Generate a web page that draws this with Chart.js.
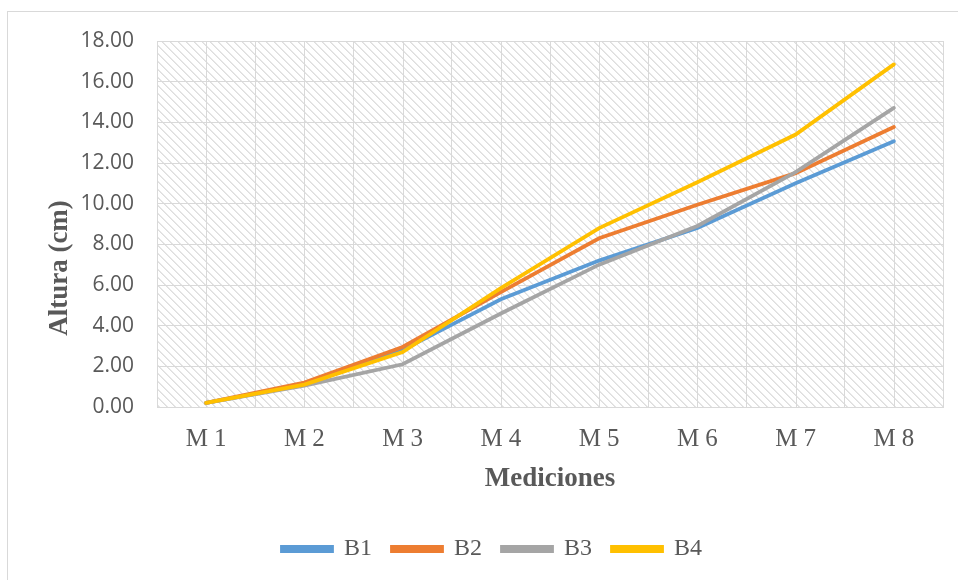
<!DOCTYPE html>
<html>
<head>
<meta charset="utf-8">
<script src="https://cdn.jsdelivr.net/npm/chart.js@4.4.1/dist/chart.umd.min.js"></script>
<style>
  html, body { margin: 0; padding: 0; background: #fff; overflow: hidden; }
  #wrap { position: relative; width: 958px; height: 580px; }
  #frame { position: absolute; left: 7px; top: 11px; width: 1000px; height: 1000px; border: 1px solid #d9d9d9; }
  canvas { position: absolute; left: 0; top: 0; }
</style>
</head>
<body>
<div id="wrap">
  <div id="frame"></div>
  <canvas id="chart" width="958" height="580"></canvas>
</div>
<script>
const categories = ['M 1', 'M 2', 'M 3', 'M 4', 'M 5', 'M 6', 'M 7', 'M 8'];
const b1 = [0.2, 1.1, 2.8, 5.3, 7.2, 8.8, 11.0, 13.07];
const b2 = [0.2, 1.2, 2.95, 5.65, 8.3, 9.95, 11.5, 13.77];
const b3 = [0.2, 1.05, 2.1, 4.6, 7.0, 8.9, 11.55, 14.71];
const b4 = [0.2, 1.1, 2.7, 5.85, 8.8, 11.05, 13.4, 16.85];
const seriesNames = ['B1', 'B2', 'B3', 'B4'];
const seriesColors = ['#5B9BD5', '#ED7D31', '#A5A5A5', '#FFC000'];

const textColor = '#595959';
const gridColor = '#d9d9d9';

// hatch fill for the plot area (downward diagonal)
function makeHatch() {
  const c = document.createElement('canvas');
  c.width = 8; c.height = 8;
  const g = c.getContext('2d');
  const img = g.createImageData(8, 8);
  for (let y = 0; y < 8; y++) {
    for (let x = 0; x < 8; x++) {
      const d = (x - y + 8) % 8;
      const v = d === 0 ? 222 : (d === 1 ? 232 : 255);
      const i = (y * 8 + x) * 4;
      img.data[i] = v; img.data[i + 1] = v; img.data[i + 2] = v; img.data[i + 3] = 255;
    }
  }
  g.putImageData(img, 0, 0);
  return g.createPattern(c, 'repeat');
}

const plotDecor = {
  id: 'plotDecor',
  beforeDraw(chart) {
    const { ctx, chartArea: a } = chart;
    ctx.save();
    ctx.fillStyle = makeHatch();
    ctx.fillRect(a.left, a.top, a.right - a.left, a.bottom - a.top);
    ctx.restore();
  },
  beforeDatasetsDraw(chart) {
    // extra vertical lines through each category centre
    const { ctx, chartArea: a, scales: { x } } = chart;
    ctx.save();
    ctx.strokeStyle = gridColor;
    ctx.lineWidth = 1;
    categories.forEach((c, i) => {
      const px = Math.round(x.getPixelForValue(i)) + 0.5;
      ctx.beginPath();
      ctx.moveTo(px, a.top);
      ctx.lineTo(px, a.bottom);
      ctx.stroke();
    });
    ctx.restore();
  },
  afterDraw(chart) {
    const { ctx } = chart;
    ctx.save();
    ctx.translate(60, 268);
    ctx.rotate(-Math.PI / 2);
    ctx.font = 'bold 27px "Liberation Serif"';
    ctx.fillStyle = textColor;
    ctx.textAlign = 'center';
    ctx.textBaseline = 'middle';
    ctx.fillText('Altura (cm)', 0, 0);
    ctx.restore();
  }
};

const allSeries = [b1, b2, b3, b4];

new Chart(document.getElementById('chart'), {
  type: 'line',
  data: {
    labels: categories,
    datasets: allSeries.map((d, i) => ({
      label: seriesNames[i],
      data: d,
      order: allSeries.length - i, // later series on top, like the original
      borderColor: seriesColors[i],
      backgroundColor: seriesColors[i],
      borderWidth: 3.8,
      pointRadius: 0,
      tension: 0,
      borderCapStyle: 'round'
    }))
  },
  options: {
    responsive: false,
    animation: false,
    layout: { padding: { top: 41, right: 15, bottom: 9, left: 41 } },
    plugins: {
      tooltip: { enabled: false },
      legend: {
        position: 'bottom',
        labels: {
          font: { family: 'Liberation Serif', size: 24 },
          color: textColor,
          boxWidth: 50,
          boxHeight: 4,
          padding: 20,
          sort: (a, b) => a.datasetIndex - b.datasetIndex
        }
      }
    },
    scales: {
      x: {
        offset: true,
        grid: { offset: true, color: gridColor, drawTicks: false },
        border: { color: gridColor },
        ticks: { font: { family: 'Liberation Serif', size: 25 }, color: textColor, padding: 17 },
        title: {
          display: true,
          text: 'Mediciones',
          font: { family: 'Liberation Serif', size: 27, weight: 'bold' },
          color: textColor,
          padding: { top: 0, bottom: 22 }
        },
        afterFit(s) { s.height = 110; }
      },
      y: {
        min: 0,
        max: 18,
        grid: { color: gridColor, drawTicks: false },
        border: { color: gridColor },
        ticks: {
          stepSize: 2,
          font: { family: 'Open Sans', size: 21 },
          color: textColor,
          padding: 23,
          callback: v => Number(v).toFixed(2)
        },
        afterFit(s) { s.width = 116; }
      }
    }
  },
  plugins: [plotDecor]
});
</script>
</body>
</html>
